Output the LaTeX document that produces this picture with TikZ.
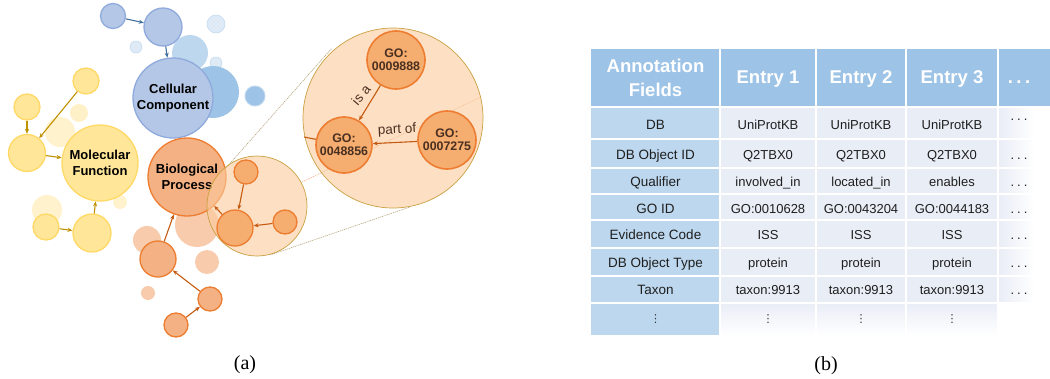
\documentclass[tikz,border=0pt]{standalone}
\usepackage{fontspec}
\setmainfont{Liberation Serif}
\setsansfont{Liberation Sans}
\newfontfamily\dejavu{DejaVu Sans}
\usetikzlibrary{arrows.meta}
\definecolor{hdr}{HTML}{9DC3E6}
\definecolor{fcol}{HTML}{BDD7EE}
\definecolor{cell}{HTML}{E9EDF6}
\definecolor{bFill}{HTML}{B4C7E7}
\definecolor{bLine}{HTML}{8FAADC}
\definecolor{bArr}{HTML}{41719C}
\definecolor{bPale}{HTML}{DEEBF7}
\definecolor{bMid}{HTML}{BDD7EE}
\definecolor{bDark}{HTML}{9DC3E6}
\definecolor{yFill}{HTML}{FFE699}
\definecolor{yLine}{HTML}{FFD966}
\definecolor{yArr}{HTML}{BF9000}
\definecolor{yPale}{HTML}{FFF2CC}
\definecolor{oFill}{HTML}{F4B183}
\definecolor{oLine}{HTML}{ED7D31}
\definecolor{oArr}{HTML}{C55A11}
\definecolor{oPale}{HTML}{F8CBAD}
\definecolor{goFill}{HTML}{F6AD70}
\definecolor{magFill}{HTML}{FCCB9D}
\definecolor{magLine}{HTML}{C9A040}
\definecolor{tanLine}{HTML}{B8A57E}
\definecolor{goText}{HTML}{4A3020}
\tikzset{
  circ/.style={circle, inner sep=0pt, line width=1.3pt, align=center, text=black,
    font=\sffamily\bfseries\fontsize{13}{16}\selectfont},
  bc/.style={circ, fill=bFill, draw=bLine},
  yc/.style={circ, fill=yFill, draw=yLine},
  oc/.style={circ, fill=oFill, draw=oLine},
  goc/.style={circ, fill=goFill, draw=oLine, line width=1.6pt, text=goText,
    font=\sffamily\bfseries\fontsize{12.4}{13}\selectfont},
  mag/.style={circle, inner sep=0pt, fill=magFill, fill opacity=0.6, draw=magLine, line width=0.7pt},
  tip/.style={-{Stealth[length=5pt,width=4pt]}},
  barr/.style={draw=bArr, line width=1.1pt, tip},
  yarr/.style={draw=yArr, line width=1.1pt, tip},
  oarr/.style={draw=oArr, line width=1.1pt, tip},
  tang/.style={draw=tanLine, line width=0.6pt, dash pattern=on 1.2pt off 0.8pt},
  edgelbl/.style={text=goText, font=\sffamily\fontsize{13.5}{14}\selectfont, inner sep=0pt},
  hdrtxt/.style={text=white, font=\sffamily\bfseries\fontsize{18.5}{23.4}\selectfont, align=center, inner sep=0pt},
  ftxt/.style={text=black!88, font=\sffamily\fontsize{13.5}{16}\selectfont, anchor=base, inner sep=0pt},
  etxt/.style={text=black!88, font=\sffamily\fontsize{13}{16}\selectfont, anchor=base, inner sep=0pt},
  vdtxt/.style={text=black!80, font=\dejavu\fontsize{11}{11}\selectfont, inner sep=0pt},
  captxt/.style={font=\fontsize{20}{22}\selectfont, inner sep=0pt},
}
\newcommand\tdots{.\kern3pt.\kern3pt.}
\newcommand\tabrow[6]{%
  \node[ftxt] (#1-f) at (655.5,#2) {#3};
  \node[etxt] (#1-a) at (768,#2) {#4};
  \node[etxt] (#1-b) at (861,#2) {#5};
  \node[etxt] (#1-c) at (952,#2) {#6};
}
\begin{document}
\begin{tikzpicture}[x=1pt,y=-1pt]
\useasboundingbox (0,0) rectangle (1050,378);

% ---------- (a) pale background circles ----------
\filldraw[fill=bPale, draw=bMid, line width=0.5pt] (216,24) circle[radius=9pt];
\filldraw[fill=bPale, draw=bMid, line width=0.5pt] (136,47) circle[radius=6pt];
\fill[bMid] (190,53) circle[radius=18pt];
\filldraw[fill=bPale, draw=bMid, line width=0.5pt] (216,63) circle[radius=6pt];
\fill[bDark] (213,92) circle[radius=26pt];
\filldraw[fill=bDark, draw=bMid, line width=1pt] (255,96) circle[radius=10pt];
\fill[yPale] (60,132) circle[radius=15pt];
\fill[yFill!55] (79,113) circle[radius=9pt];
\fill[yPale] (47,210) circle[radius=15pt];
\fill[yPale] (120,202) circle[radius=7pt];
\fill[oPale] (197,225) circle[radius=22pt];
\fill[oPale] (147,240) circle[radius=14pt];
\fill[oPale] (207,262) circle[radius=12pt];
\fill[oPale] (148,293) circle[radius=7pt];

% ---------- (a) main circles ----------
\node[bc, minimum size=25pt] (b1) at (113,16) {};
\node[bc, minimum size=38pt] (b2) at (163,27) {};
\node[bc, minimum size=80pt] (cc) at (173,98) {Cellular\\Component};
\node[yc, minimum size=26pt] (y1) at (86,81) {};
\node[yc, minimum size=26pt] (y2) at (27,107) {};
\node[yc, minimum size=37pt] (y3) at (27,153) {};
\node[yc, minimum size=76pt] (mf) at (100,163) {Molecular\\Function};
\node[yc, minimum size=26pt] (y4) at (46,227) {};
\node[yc, minimum size=38pt] (y5) at (92,233) {};
\node[oc, minimum size=78pt] (bp) at (187,177) {Biological\\Process};
\node[oc, minimum size=36pt] (o1) at (158,259) {};
\node[oc, minimum size=24pt] (o2) at (210,299) {};
\node[oc, minimum size=24pt] (o3) at (176,325) {};

\draw[barr] (b1) -- (b2);
\draw[barr] (b2) -- (cc);
\draw[yarr] (y2) -- (y3);
\draw[yarr] (y1) -- (y3);
\draw[yarr] (y3) -- (mf);
\draw[yarr] (y4) -- (y5);
\draw[yarr] (y5) -- (mf);
\draw[oarr] (o3) -- (o2);
\draw[oarr] (o2) -- (o1);
\draw[oarr] (o1) -- (bp);

% ---------- zoom lines ----------
\coordinate (t1a) at (226,168); \coordinate (t1b) at (332,48);
\coordinate (t2a) at (270,255); \coordinate (t2b) at (410,207);
\coordinate (t3a) at (302,182); \coordinate (t3b) at (481,97);
\draw[tang] (t1a) -- (t1b);
\draw[tang] (t2a) -- (t2b);
\draw[tang, draw=oLine!60] (t3a) -- (t3b);

% ---------- small magnifier ----------
\node[mag, minimum size=100pt] (m1) at (257,206) {};
\node[circ, fill=goFill, draw=oLine, minimum size=24pt] (s1) at (246,172) {};
\node[circ, fill=goFill, draw=oLine, minimum size=36pt] (s2) at (235,228) {};
\node[circ, fill=goFill, draw=oLine, minimum size=24pt] (s3) at (285,222) {};
\draw[oarr] (s1) -- (s2);
\draw[oarr] (s3) -- (s2);
\draw[oarr] (s2) -- (bp);

% ---------- big magnifier ----------
\node[mag, minimum size=180pt] (m2) at (393,118) {};
\coordinate (stub) at (304,137);
\node[goc, minimum size=58pt] (g1) at (396,60) {GO:\\0009888};
\node[goc, minimum size=56pt] (g2) at (344,145) {GO:\\0048856};
\node[goc, minimum size=58pt] (g3) at (447,140) {GO:\\0007275};
\draw[draw=oArr, line width=1.1pt] (stub) -- (g2);
\draw[oarr] (g1) -- (g2);
\draw[oarr] (g3) -- (g2);
\node[edgelbl, rotate=50] (lisa) at (361,95) {is a};
\node[edgelbl, rotate=3] (lpart) at (397,130) {part of};

\node[captxt] (capa) at (245,365) {(a)};

% ---------- (b) table ----------
\fill[hdr] (591,49) rectangle (1050,106);
\fill[fcol] (591,108) rectangle (720,335);
\fill[cell] (720,108) rectangle (998,303);
\shade[left color=cell, right color=white] (998,108) rectangle (1034,303);
\shade[top color=cell, bottom color=white] (720,303) rectangle (998,335);
\foreach \yy in {139,168,194,220,248,276,303}
  \draw[white, line width=1.5pt] (591,\yy) -- (1040,\yy);
\foreach \xx in {720,816,906,998}
  \draw[white, line width=1.5pt] (\xx,49) -- (\xx,335);

\node[hdrtxt] (h0) at (655.5,78) {Annotation\\Fields};
\node[hdrtxt, anchor=base] (h1) at (768,83.5) {Entry 1};
\node[hdrtxt, anchor=base] (h2) at (861,83.5) {Entry 2};
\node[hdrtxt, anchor=base] (h3) at (952,83.5) {Entry 3};
\node[hdrtxt, anchor=base] (h4) at (1019,83.5) {.\kern3.5pt.\kern3.5pt.};

\tabrow{r1}{129.3}{DB}{UniProtKB}{UniProtKB}{UniProtKB}
\tabrow{r2}{159.8}{DB Object ID}{Q2TBX0}{Q2TBX0}{Q2TBX0}
\tabrow{r3}{186.8}{Qualifier}{involved\_in}{located\_in}{enables}
\tabrow{r4}{213.3}{GO ID}{GO:0010628}{GO:0043204}{GO:0044183}
\tabrow{r5}{239.8}{Evidence Code}{ISS}{ISS}{ISS}
\tabrow{r6}{267.3}{DB Object Type}{protein}{protein}{protein}
\tabrow{r7}{294.8}{Taxon}{taxon:9913}{taxon:9913}{taxon:9913}
\node[etxt] (r1-d) at (1019,120) {\tdots};
\node[etxt] (r2-d) at (1019,159.8) {\tdots};
\node[etxt] (r3-d) at (1019,186.8) {\tdots};
\node[etxt] (r4-d) at (1019,213.3) {\tdots};
\node[etxt] (r5-d) at (1019,239.8) {\tdots};
\node[etxt] (r6-d) at (1019,267.3) {\tdots};
\node[etxt] (r7-d) at (1019,294.8) {\tdots};
\node[vdtxt] (r8-f) at (655.5,319) {⋮};
\node[vdtxt] (r8-a) at (768,319) {⋮};
\node[vdtxt] (r8-b) at (861,319) {⋮};
\node[vdtxt] (r8-c) at (952,319) {⋮};

\node[captxt] (capb) at (826,366) {(b)};
\end{tikzpicture}
\end{document}
